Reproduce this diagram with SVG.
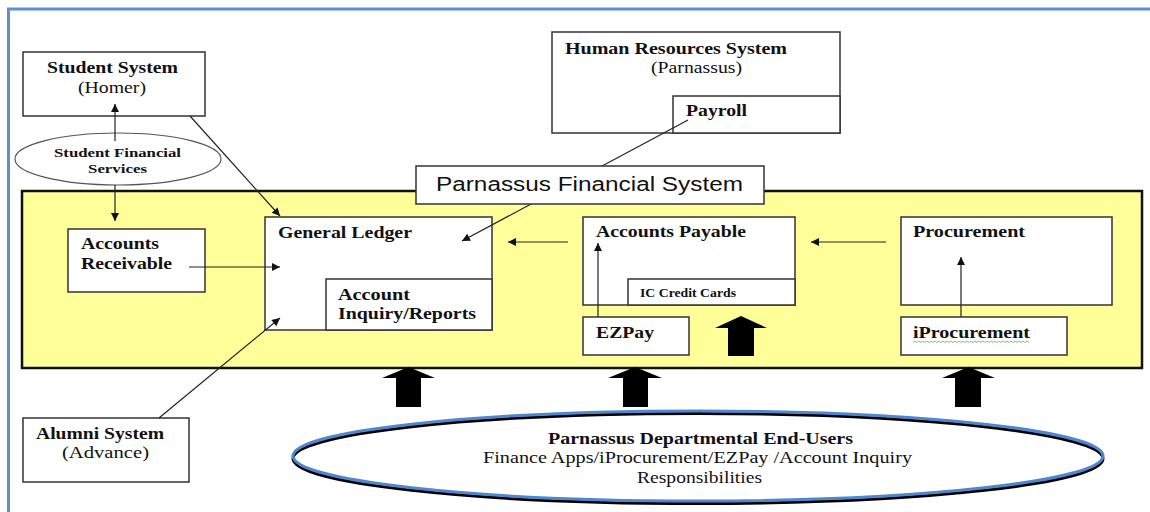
<svg xmlns="http://www.w3.org/2000/svg" width="1150" height="512" viewBox="0 0 1150 512">
<defs>
<marker id="ah" viewBox="0 0 10 10" refX="10" refY="5" markerWidth="9" markerHeight="8" markerUnits="userSpaceOnUse" orient="auto">
<path d="M0,0 L10,5 L0,10 Z" fill="#111"/>
</marker>
</defs>
<style>
.box{fill:#fff;stroke:#333;stroke-width:1.5}
.t{font-family:"Liberation Serif","Times New Roman",serif;font-size:16px;font-weight:bold;fill:#111}
.r{font-family:"Liberation Serif","Times New Roman",serif;font-size:16px;fill:#111}
.s{font-family:"Liberation Serif","Times New Roman",serif;font-size:13px;font-weight:bold;fill:#111}
.c{stroke:#222;stroke-width:1.2;fill:none;marker-end:url(#ah)}
.blk{fill:#000}
</style>
<rect width="1150" height="512" fill="#fff"/>
<!-- blue frame -->
<path d="M8.5,512 L8.5,9 L1150,9" fill="none" stroke="#5b8ed6" stroke-width="3"/>

<g id="main-system">
<rect x="22" y="191" width="1120" height="177" fill="#ffff99" stroke="#111" stroke-width="2.5"/>
</g>

<g id="student-system">
<rect x="23" y="52" width="182" height="64" class="box"/>
<text x="47" y="73" class="t" textLength="131" lengthAdjust="spacingAndGlyphs">Student System</text>
<text x="78" y="93" class="r" textLength="68" lengthAdjust="spacingAndGlyphs">(Homer)</text>
</g>

<g id="student-financial-services">
<ellipse cx="118" cy="159" rx="103" ry="26" fill="#fff" stroke="#555" stroke-width="1.2"/>
<text x="54" y="157" class="s" textLength="127" lengthAdjust="spacingAndGlyphs">Student Financial</text>
<text x="88" y="173" class="s" textLength="59" lengthAdjust="spacingAndGlyphs">Services</text>
</g>

<g id="hr-system">
<rect x="552" y="32" width="288" height="101" class="box"/>
<text x="565" y="54" class="t" textLength="222" lengthAdjust="spacingAndGlyphs">Human Resources System</text>
<text x="651" y="73" class="r" textLength="91" lengthAdjust="spacingAndGlyphs">(Parnassus)</text>
</g>
<g id="payroll">
<rect x="673" y="96" width="167" height="37" class="box"/>
<text x="686" y="116" class="t" textLength="61" lengthAdjust="spacingAndGlyphs">Payroll</text>
</g>

<g id="accounts-receivable">
<rect x="68" y="229" width="137" height="63" class="box"/>
<text x="81" y="249" class="t" textLength="78" lengthAdjust="spacingAndGlyphs">Accounts</text>
<text x="81" y="269" class="t" textLength="91" lengthAdjust="spacingAndGlyphs">Receivable</text>
</g>

<g id="general-ledger">
<rect x="265" y="217" width="227" height="113" class="box"/>
<text x="278" y="238" class="t" textLength="134" lengthAdjust="spacingAndGlyphs">General Ledger</text>
</g>
<g id="account-inquiry">
<rect x="326" y="279" width="166" height="51" class="box"/>
<text x="338" y="300" class="t" textLength="72" lengthAdjust="spacingAndGlyphs">Account</text>
<text x="338" y="319" class="t" textLength="138" lengthAdjust="spacingAndGlyphs">Inquiry/Reports</text>
</g>

<g id="accounts-payable">
<rect x="583" y="217" width="212" height="88" class="box"/>
<text x="596" y="237" class="t" textLength="150" lengthAdjust="spacingAndGlyphs">Accounts Payable</text>
</g>
<g id="ic-credit-cards">
<rect x="628" y="279" width="167" height="26" class="box"/>
<text x="640" y="297" class="s" font-size="12" textLength="96" lengthAdjust="spacingAndGlyphs">IC Credit Cards</text>
</g>

<g id="ezpay">
<rect x="583" y="317" width="106" height="38" class="box"/>
<text x="596" y="338" class="t" textLength="58" lengthAdjust="spacingAndGlyphs">EZPay</text>
</g>

<g id="procurement">
<rect x="901" y="217" width="211" height="88" class="box"/>
<text x="913" y="237" class="t" textLength="112" lengthAdjust="spacingAndGlyphs">Procurement</text>
</g>

<g id="iprocurement">
<rect x="901" y="317" width="166" height="38" class="box"/>
<text x="913" y="338" class="t" textLength="117" lengthAdjust="spacingAndGlyphs">iProcurement</text>
<path d="M913,342.5 l2,-1.5 l2,1.5 l2,-1.5 l2,1.5 l2,-1.5 l2,1.5 l2,-1.5 l2,1.5 l2,-1.5 l2,1.5 l2,-1.5 l2,1.5 l2,-1.5 l2,1.5 l2,-1.5 l2,1.5 l2,-1.5 l2,1.5 l2,-1.5 l2,1.5 l2,-1.5 l2,1.5 l2,-1.5 l2,1.5 l2,-1.5 l2,1.5 l2,-1.5 l2,1.5 l2,-1.5 l2,1.5 l2,-1.5 l2,1.5 l2,-1.5 l2,1.5 l2,-1.5 l2,1.5 l2,-1.5 l2,1.5 l2,-1.5 l2,1.5 l2,-1.5 l2,1.5 l2,-1.5 l2,1.5 l2,-1.5 l2,1.5 l2,-1.5 l2,1.5 l2,-1.5 l2,1.5 l2,-1.5 l2,1.5 l2,-1.5 l2,1.5 l2,-1.5 l2,1.5 l2,-1.5 l2,1.5" fill="none" stroke="#5cb85c" stroke-width="0.8"/>
</g>

<g id="alumni-system">
<rect x="23" y="418" width="166" height="64" class="box"/>
<text x="36" y="439" class="t" textLength="128" lengthAdjust="spacingAndGlyphs">Alumni System</text>
<text x="62" y="458" class="r" textLength="87" lengthAdjust="spacingAndGlyphs">(Advance)</text>
</g>

<g id="end-users">
<ellipse cx="698" cy="458.5" rx="405" ry="45" fill="#fff" stroke="#000" stroke-width="3"/>
<ellipse cx="698" cy="456" rx="405" ry="45" fill="none" stroke="#4f86cf" stroke-width="3"/>
<text x="548" y="444" class="t" font-size="14.5" textLength="305" lengthAdjust="spacingAndGlyphs">Parnassus Departmental End-Users</text>
<text x="483" y="463" class="r" font-size="14.5" textLength="429" lengthAdjust="spacingAndGlyphs">Finance Apps/iProcurement/EZPay /Account Inquiry</text>
<text x="637" y="483" class="r" font-size="14.5" textLength="125" lengthAdjust="spacingAndGlyphs">Responsibilities</text>
</g>

<g id="connectors">
<line x1="115" y1="141" x2="115" y2="104" class="c"/>
<line x1="115" y1="185" x2="115" y2="221" class="c"/>
<line x1="190" y1="116" x2="280" y2="216" class="c"/>
<line x1="189" y1="267" x2="280" y2="267" class="c"/>
<line x1="159" y1="418" x2="280" y2="318" class="c"/>
<line x1="688" y1="120" x2="462" y2="241" class="c"/>
<line x1="568" y1="242" x2="508" y2="242" class="c"/>
<line x1="886" y1="242" x2="811" y2="242" class="c"/>
<line x1="598" y1="317" x2="598" y2="243" class="c"/>
<line x1="961" y1="317" x2="961" y2="257" class="c"/>
<path class="blk" d="M741,316 L767,328 L754,328 L754,356 L728,356 L728,328 L715,328 Z"/>
<path class="blk" d="M408.5,367 L435,378 L421,378 L421,407 L396,407 L396,378 L382,378 Z"/>
<path class="blk" d="M635,367 L662,378 L648,378 L648,407 L623,407 L623,378 L608,378 Z"/>
<path class="blk" d="M968.5,367 L995,378 L981,378 L981,407 L955,407 L955,378 L942,378 Z"/>
</g>

<g id="title">
<rect x="416" y="166" width="348" height="38" class="box"/>
<text x="436" y="191" font-family="'Liberation Sans',Arial,sans-serif" font-size="19.5" fill="#111" textLength="307" lengthAdjust="spacingAndGlyphs">Parnassus Financial System</text>
</g>
</svg>
